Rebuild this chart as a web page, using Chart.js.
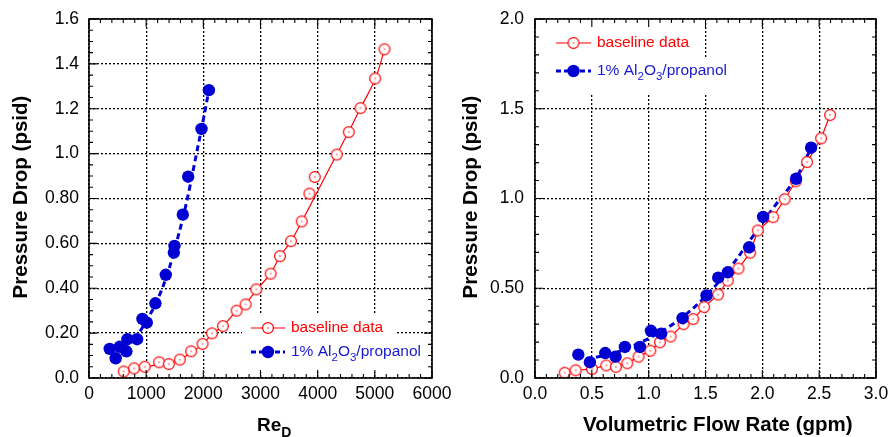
<!DOCTYPE html>
<html lang="en">
<head>
<meta charset="UTF-8">
<title>Pressure Drop vs Re and Flow Rate</title>
<script src="https://cdn.jsdelivr.net/npm/chart.js"></script>
<style>
  body { margin: 0; background: #fff; }
  #wrap { position: relative; width: 892px; height: 437px; overflow: hidden; }
  canvas { position: absolute; top: 0; }
</style>
</head>
<body>
<div id="wrap">
  <canvas id="reChart" width="470" height="437" style="left:0"></canvas>
  <canvas id="flowChart" width="446" height="437" style="left:446px"></canvas>
</div>
<script>
// baseline data (red open circles)
const baselineRe = [607, 789, 975, 1227, 1396, 1589, 1787, 1986, 2150, 2342, 2582, 2739, 2926, 3178, 3341, 3534, 3721, 3855, 3949, 4334, 4544, 4749, 5006, 5169];
const baselineFlow = [0.261, 0.357, 0.501, 0.627, 0.712, 0.812, 0.911, 1.014, 1.099, 1.193, 1.307, 1.392, 1.488, 1.611, 1.696, 1.790, 1.893, 1.960, 2.095, 2.197, 2.294, 2.394, 2.517, 2.596];
const baselineDp = [0.029, 0.043, 0.050, 0.070, 0.062, 0.082, 0.119, 0.152, 0.199, 0.231, 0.300, 0.328, 0.395, 0.465, 0.543, 0.610, 0.698, 0.822, 0.896, 0.996, 1.096, 1.203, 1.335, 1.465];

// 1% Al2O3/propanol (blue filled circles)
const nanoRe = [362, 467, 537, 654, 672, 841, 935, 1011, 1162, 1343, 1484, 1495, 1641, 1735, 1968, 2097];
const nanoFlow = [0.381, 0.483, 0.618, 0.709, 0.791, 0.923, 1.020, 1.110, 1.298, 1.509, 1.612, 1.696, 1.884, 2.007, 2.297, 2.429];
const nanoDp = [0.130, 0.088, 0.139, 0.119, 0.173, 0.173, 0.263, 0.247, 0.333, 0.460, 0.559, 0.589, 0.728, 0.897, 1.110, 1.283];

// curve fits
const baseFitRe = [990, 1230, 1400, 1590, 1790, 1990, 2150, 2340, 2580, 2740, 2930, 3180, 3340, 3530, 3720, 3980, 4330, 4540, 4750, 5010, 5170];
const baseFitDp = [0.050, 0.060, 0.066, 0.080, 0.115, 0.150, 0.195, 0.232, 0.298, 0.330, 0.393, 0.466, 0.543, 0.608, 0.696, 0.823, 0.995, 1.096, 1.203, 1.334, 1.465];
const nanoFitRe = [800, 1005, 1180, 1355, 1500, 1647, 1764, 1881, 1998, 2097];
const nanoFitReDp = [0.170, 0.255, 0.339, 0.451, 0.577, 0.718, 0.852, 1.001, 1.149, 1.283];
const nanoFitFlow = [0.45, 0.70, 0.90, 1.10, 1.30, 1.50, 1.70, 1.90, 2.10, 2.30, 2.43];
const nanoFitFlowDp = [0.105, 0.140, 0.190, 0.255, 0.340, 0.455, 0.600, 0.775, 0.950, 1.120, 1.283];

// tick labels
const reTicksX = ['0', '1000', '2000', '3000', '4000', '5000', '6000'];
const reTicksY = ['0.0', '0.20', '0.40', '0.60', '0.80', '1.0', '1.2', '1.4', '1.6'];
const flowTicksX = ['0.0', '0.5', '1.0', '1.5', '2.0', '2.5', '3.0'];
const flowTicksY = ['0.0', '0.50', '1.0', '1.5', '2.0'];

const FONT = "'Liberation Sans', Arial, Helvetica, sans-serif";
const RED = '#ff0000';
const BLUE = '#0000d2';

const pts = (xs, ys) => xs.map((x, i) => ({ x: x, y: ys[i] }));

// open red circle with a dot in the middle
function ring() {
    const c = document.createElement('canvas');
    c.width = 14; c.height = 14;
    const g = c.getContext('2d');
    g.beginPath();
    g.arc(7, 7, 5.4, 0, Math.PI * 2);
    g.fillStyle = '#fff';
    g.fill();
    g.lineWidth = 1.2;
    g.strokeStyle = RED;
    g.stroke();
    g.beginPath();
    g.arc(7, 7, 0.7, 0, Math.PI * 2);
    g.fillStyle = RED;
    g.fill();
    return c;
}
const ringImg = ring();

function drawEntry(ctx, x1, x2, tx, y, kind) {
    ctx.save();
    ctx.beginPath();
    ctx.moveTo(x1, y);
    ctx.lineTo(x2, y);
    if (kind === 'base') {
        ctx.strokeStyle = RED; ctx.lineWidth = 1.2;
    } else {
        ctx.strokeStyle = BLUE; ctx.lineWidth = 3; ctx.setLineDash([5, 3]);
    }
    ctx.stroke();
    ctx.setLineDash([]);
    const cx = (x1 + x2) / 2;
    if (kind === 'base') {
        ctx.drawImage(ringImg, cx - 7, y - 7);
    } else {
        ctx.beginPath(); ctx.arc(cx, y, 6.2, 0, Math.PI * 2);
        ctx.fillStyle = BLUE; ctx.fill();
    }
    ctx.textBaseline = 'middle';
    ctx.textAlign = 'left';
    if (kind === 'base') {
        ctx.fillStyle = RED;
        ctx.font = '15.5px ' + FONT;
        ctx.fillText('baseline data', tx, y);
    } else {
        ctx.fillStyle = '#1818d0';
        const segs = [['1% Al', 0], ['2', 1], ['O', 0], ['3', 1], ['/propanol', 0]];
        let x = tx;
        segs.forEach(s => {
            ctx.font = (s[1] ? '11.5px ' : '15.5px ') + FONT;
            ctx.fillText(s[0], x, y + (s[1] ? 6 : 0));
            x += ctx.measureText(s[0]).width;
        });
    }
    ctx.restore();
}

const decor = {
    id: 'decor',
    beforeDatasetsDraw(chart, args, o) {
        const ctx = chart.ctx;
        ctx.save();
        ctx.fillStyle = '#fff';
        o.boxes.forEach(b => ctx.fillRect(b[0], b[1], b[2] - b[0], b[3] - b[1]));
        ctx.restore();
        drawEntry(ctx, o.lx1, o.lx2, o.tx, o.rows[0], 'base');
        drawEntry(ctx, o.lx1, o.lx2, o.tx, o.rows[1], 'nano');
    },
    afterDraw(chart, args, o) {
        const { ctx, chartArea: a, scales: { x, y } } = chart;
        ctx.save();
        ctx.strokeStyle = '#000';
        ctx.lineWidth = 1.1;
        ctx.beginPath();
        // inward ticks on all four sides
        const nx = Math.round((x.max - x.min) / o.xMinor);
        for (let i = 0; i <= nx; i++) {
            const p = x.getPixelForValue(x.min + i * o.xMinor);
            const len = i % o.xPer === 0 ? 8 : 4;
            ctx.moveTo(p, a.bottom); ctx.lineTo(p, a.bottom - len);
            ctx.moveTo(p, a.top); ctx.lineTo(p, a.top + len);
        }
        const ny = Math.round((y.max - y.min) / o.yMinor);
        for (let i = 0; i <= ny; i++) {
            const p = y.getPixelForValue(y.min + i * o.yMinor);
            const len = i % o.yPer === 0 ? 8 : 4;
            ctx.moveTo(a.left, p); ctx.lineTo(a.left + len, p);
            ctx.moveTo(a.right, p); ctx.lineTo(a.right - len, p);
        }
        ctx.stroke();
        ctx.lineWidth = 1.6;
        ctx.strokeRect(a.left, a.top, a.right - a.left, a.bottom - a.top);

        // axis titles
        ctx.fillStyle = '#000';
        ctx.save();
        ctx.translate(o.yTitleX, 197);
        ctx.rotate(-Math.PI / 2);
        ctx.font = 'bold 20.5px ' + FONT;
        ctx.textAlign = 'center';
        ctx.textBaseline = 'middle';
        ctx.fillText('Pressure Drop (psid)', 0, 0);
        ctx.restore();

        ctx.textAlign = 'left';
        ctx.textBaseline = 'alphabetic';
        let tx = o.xTitleX;
        o.xTitle.forEach(s => {
            ctx.font = 'bold ' + s[1] + 'px ' + FONT;
            ctx.fillText(s[0], tx, 431 + s[2]);
            tx += ctx.measureText(s[0]).width;
        });
        ctx.restore();
    }
};

function axis(min, max, step, labels, horizontal, pad) {
    return {
        type: 'linear',
        min: min,
        max: max,
        ticks: {
            stepSize: step,
            autoSkip: false,
            maxRotation: 0,
            padding: pad,
            color: '#000',
            font: { family: FONT, size: 17.5 },
            callback: (v, i) => labels[i]
        },
        grid: { color: '#000', lineWidth: 1.3, drawTicks: false },
        border: { display: false, dash: [2, 2] },
        afterFit: s => {
            if (horizontal) {
                s.height = 59; s.paddingLeft = 0; s.paddingRight = 0;
            } else {
                s.width = 89; s.paddingTop = 0; s.paddingBottom = 0;
            }
        }
    };
}

function makeChart(id, xs, fitXs, fitYs, baseFitXs, baseFitYs, xAxis, yAxis, padRight, deco) {
    const datasets = [
        { data: pts(xs.nano, nanoDp), pointStyle: 'circle', pointRadius: 6.2, backgroundColor: BLUE, borderWidth: 0, showLine: false },
        { data: pts(xs.base, baselineDp), pointStyle: ringImg, pointRadius: 6, showLine: false },
        { data: pts(fitXs, fitYs), showLine: true, pointRadius: 0, borderColor: BLUE, borderWidth: 3, borderDash: [6, 4], tension: 0.4, fill: false },
        { data: pts(baseFitXs, baseFitYs), showLine: true, pointRadius: 0, borderColor: RED, borderWidth: 1.2, tension: baseFitXs === baselineFlow ? 0 : 0.3, fill: false }
    ];
    return new Chart(document.getElementById(id), {
        type: 'scatter',
        data: { datasets: datasets },
        options: {
            responsive: false,
            animation: false,
            layout: { padding: { top: 19, right: padRight, left: 0, bottom: 0 } },
            scales: { x: xAxis, y: yAxis },
            plugins: { legend: { display: false }, tooltip: { enabled: false }, decor: deco }
        },
        plugins: [decor]
    });
}

makeChart('reChart', { nano: nanoRe, base: baselineRe }, nanoFitRe, nanoFitReDp, baseFitRe, baseFitDp,
    axis(0, 6000, 1000, reTicksX, true, 6), axis(0, 1.6, 0.2, reTicksY, false, 10), 38,
    {
        boxes: [[242, 313, 395, 340], [242, 340, 426, 372]],
        lx1: 251, lx2: 285, tx: 291, rows: [328, 352],
        xMinor: 200, xPer: 5, yMinor: 0.05, yPer: 4,
        yTitleX: 21, xTitleX: 257, xTitle: [['Re', 19, 0], ['D', 14, 6]]
    });

makeChart('flowChart', { nano: nanoFlow, base: baselineFlow }, nanoFitFlow, nanoFitFlowDp, baselineFlow, baselineDp,
    axis(0, 3.0, 0.5, flowTicksX, true, 6), axis(0, 2.0, 0.5, flowTicksY, false, 11), 16,
    {
        boxes: [[100, 19, 252, 57], [100, 57, 286, 95]],
        lx1: 110, lx2: 145, tx: 151, rows: [43, 71],
        xMinor: 0.1, xPer: 5, yMinor: 0.1, yPer: 5,
        yTitleX: 25, xTitleX: 137, xTitle: [['Volumetric Flow Rate (gpm)', 20.5, 0]]
    });
</script>
</body>
</html>
